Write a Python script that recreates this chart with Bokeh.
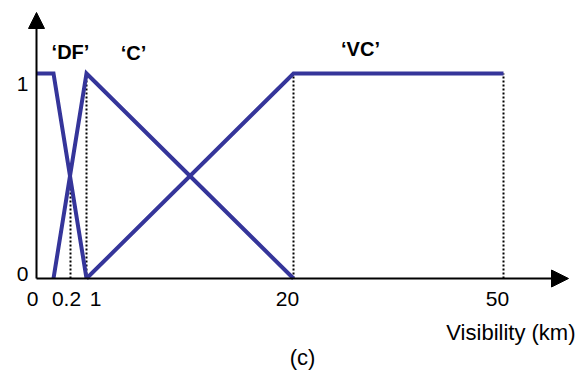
import numpy as np
from bokeh.plotting import figure
from bokeh.models import Arrow, NormalHead, Range1d
from bokeh.core.properties import value
from bokeh.embed import file_html
from bokeh.resources import INLINE

# ---- data -------------------------------------------------------------
# x axis is a schematic (non-linear) visibility axis in km
tick_km = [0, 0.2, 1, 20, 50]
tick_labels = ["0", "0.2", "1", "20", "50"]
y_ticks = [0, 1]
y_labels = ["0", "1"]

df_km = [0, 0.1, 1]
df_mu = [1, 1, 0]
c_km = [0.1, 1, 20]
c_mu = [0, 1, 0]
vc_km = [1, 20, 50]
vc_mu = [0, 1, 1]

guide_km = [0.2, 1, 20, 50]
guide_top = [0.5, 1, 1, 1]

set_names = ["\u2018DF\u2019", "\u2018C\u2019", "\u2018VC\u2019"]

# ---- schematic axis scale (km -> axis units) ---------------------------
tick_pos = [0, 34, 50, 257, 467]


def axis_pos(km):
    return np.interp(km, tick_km, tick_pos)


BLUE = "#35359a"
FONT = value("Liberation Sans")

p = figure(width=585, height=376, output_backend="svg", toolbar_location=None,
           x_range=Range1d(-36, 549), y_range=Range1d(-0.478, 1.3561),
           min_border=0, x_axis_location=None, y_axis_location=None)
p.grid.visible = False
p.outline_line_color = None
p.background_fill_color = "white"
p.border_fill_color = "white"

# dotted guides
gx = axis_pos(guide_km)
p.segment(x0=gx, y0=[0] * len(gx), x1=gx, y1=guide_top,
          line_color="black", line_width=2, line_dash="2 2")

# membership functions
for km, mu in [(df_km, df_mu), (c_km, c_mu), (vc_km, vc_mu)]:
    p.line(axis_pos(km), mu, line_color=BLUE, line_width=4, line_join="miter")

# axes with arrow heads
p.add_layout(Arrow(end=NormalHead(size=17, fill_color="black", line_color="black"),
                   x_start=0, y_start=0, x_end=532, y_end=0,
                   line_color="black", line_width=2))
p.add_layout(Arrow(end=NormalHead(size=16, fill_color="black", line_color="black"),
                   x_start=0, y_start=0, x_end=0, y_end=1.2976,
                   line_color="black", line_width=2))

# x tick labels
p.text(x=axis_pos(tick_km), y=[0] * len(tick_km), text=tick_labels,
       x_offset=[-4, -4, 9, -6, -6], y_offset=[20] * len(tick_km),
       text_font=FONT, text_font_size="21px", text_color="black",
       text_align="center", text_baseline="middle")

# y tick labels
p.text(x=[0, 0], y=y_ticks, text=y_labels,
       x_offset=[-14, -14], y_offset=[-5, 10],
       text_font=FONT, text_font_size="21px", text_color="black",
       text_align="center", text_baseline="middle")

# set names
p.text(x=[34, 97, 324], y=[1.107, 1.102, 1.12], text=set_names,
       text_font=FONT, text_font_size="20px", text_font_style="bold",
       text_color="black", text_align="center", text_baseline="middle")

# axis title and panel label
p.text(x=[539], y=[-0.263], text=["Visibility (km)"],
       text_font=FONT, text_font_size="22px", text_color="black",
       text_align="right", text_baseline="middle")
p.text(x=[266], y=[-0.385], text=["(c)"],
       text_font=FONT, text_font_size="22px", text_color="black",
       text_align="center", text_baseline="middle")

open("out.html", "w").write(file_html(p, INLINE))
